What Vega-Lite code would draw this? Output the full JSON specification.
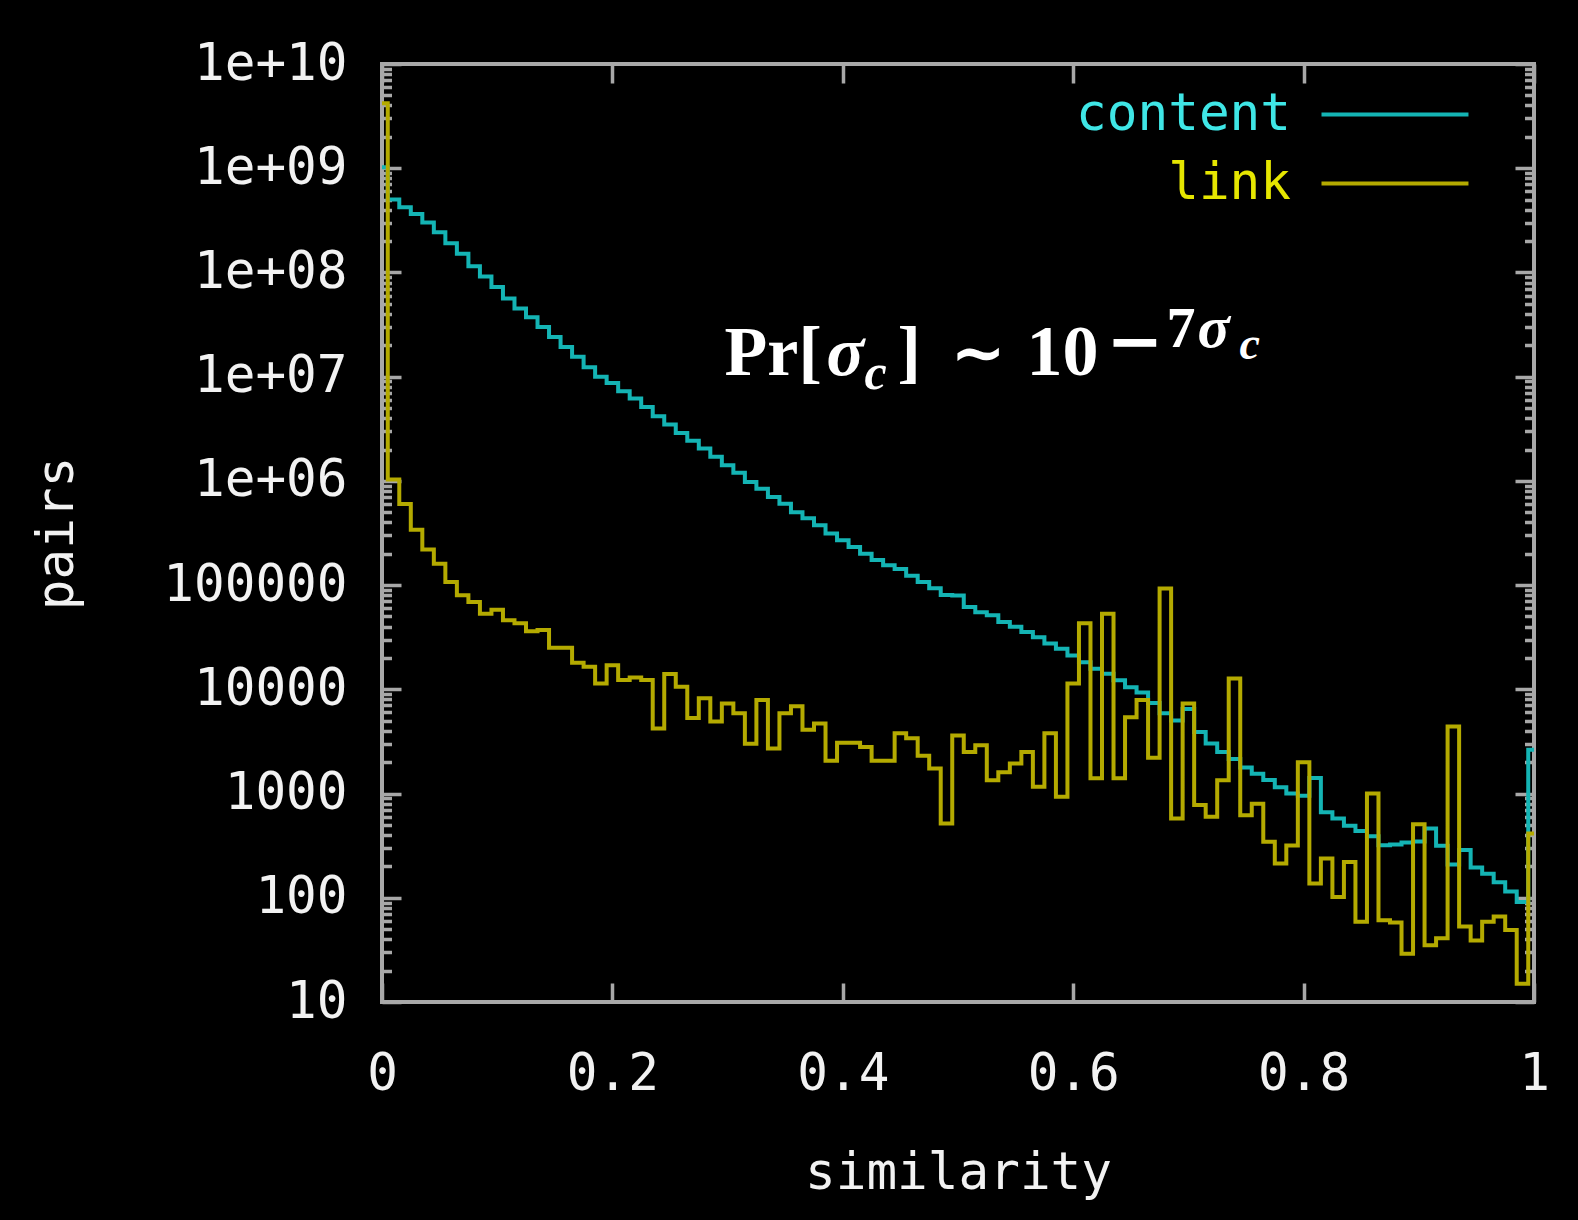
{
  "$schema": "https://vega.github.io/schema/vega-lite/v6.json",
  "width": 1152,
  "height": 938,
  "autosize": "none",
  "padding": {"left": 382, "top": 64, "right": 44, "bottom": 218},
  "background": "#000000",
  "config": {
    "view": {"stroke": "#a8a8a8", "strokeWidth": 4, "fill": "#000000"},
    "axis": {"grid": false}
  },
  "datasets": {
    "series": [
      {"x": 0, "pairs": 1020000000, "series": "content"},
      {"x": 0.01, "pairs": 501000000, "series": "content"},
      {"x": 0.02, "pairs": 422000000, "series": "content"},
      {"x": 0.03, "pairs": 363000000, "series": "content"},
      {"x": 0.04, "pairs": 302000000, "series": "content"},
      {"x": 0.05, "pairs": 243000000, "series": "content"},
      {"x": 0.06, "pairs": 190500000, "series": "content"},
      {"x": 0.07, "pairs": 151000000, "series": "content"},
      {"x": 0.08, "pairs": 114800000, "series": "content"},
      {"x": 0.09, "pairs": 91200000, "series": "content"},
      {"x": 0.1, "pairs": 72400000, "series": "content"},
      {"x": 0.11, "pairs": 56200000, "series": "content"},
      {"x": 0.12, "pairs": 45200000, "series": "content"},
      {"x": 0.13, "pairs": 37200000, "series": "content"},
      {"x": 0.14, "pairs": 29900000, "series": "content"},
      {"x": 0.15, "pairs": 24000000, "series": "content"},
      {"x": 0.16, "pairs": 19300000, "series": "content"},
      {"x": 0.17, "pairs": 15500000, "series": "content"},
      {"x": 0.18, "pairs": 12300000, "series": "content"},
      {"x": 0.19, "pairs": 10000000, "series": "content"},
      {"x": 0.2, "pairs": 8710000, "series": "content"},
      {"x": 0.21, "pairs": 7240000, "series": "content"},
      {"x": 0.22, "pairs": 6170000, "series": "content"},
      {"x": 0.23, "pairs": 5130000, "series": "content"},
      {"x": 0.24, "pairs": 4170000, "series": "content"},
      {"x": 0.25, "pairs": 3470000, "series": "content"},
      {"x": 0.26, "pairs": 2880000, "series": "content"},
      {"x": 0.27, "pairs": 2430000, "series": "content"},
      {"x": 0.28, "pairs": 2040000, "series": "content"},
      {"x": 0.29, "pairs": 1700000, "series": "content"},
      {"x": 0.3, "pairs": 1410000, "series": "content"},
      {"x": 0.31, "pairs": 1200000, "series": "content"},
      {"x": 0.32, "pairs": 977000, "series": "content"},
      {"x": 0.33, "pairs": 841000, "series": "content"},
      {"x": 0.34, "pairs": 700000, "series": "content"},
      {"x": 0.35, "pairs": 603000, "series": "content"},
      {"x": 0.36, "pairs": 501000, "series": "content"},
      {"x": 0.37, "pairs": 437000, "series": "content"},
      {"x": 0.38, "pairs": 376000, "series": "content"},
      {"x": 0.39, "pairs": 313000, "series": "content"},
      {"x": 0.4, "pairs": 269000, "series": "content"},
      {"x": 0.41, "pairs": 232000, "series": "content"},
      {"x": 0.42, "pairs": 200000, "series": "content"},
      {"x": 0.43, "pairs": 174000, "series": "content"},
      {"x": 0.44, "pairs": 155000, "series": "content"},
      {"x": 0.45, "pairs": 143000, "series": "content"},
      {"x": 0.46, "pairs": 123000, "series": "content"},
      {"x": 0.47, "pairs": 107000, "series": "content"},
      {"x": 0.48, "pairs": 93300, "series": "content"},
      {"x": 0.49, "pairs": 80400, "series": "content"},
      {"x": 0.5, "pairs": 79400, "series": "content"},
      {"x": 0.51, "pairs": 61700, "series": "content"},
      {"x": 0.52, "pairs": 55000, "series": "content"},
      {"x": 0.53, "pairs": 51300, "series": "content"},
      {"x": 0.54, "pairs": 44200, "series": "content"},
      {"x": 0.55, "pairs": 39800, "series": "content"},
      {"x": 0.56, "pairs": 35500, "series": "content"},
      {"x": 0.57, "pairs": 31600, "series": "content"},
      {"x": 0.58, "pairs": 27500, "series": "content"},
      {"x": 0.59, "pairs": 24500, "series": "content"},
      {"x": 0.6, "pairs": 21100, "series": "content"},
      {"x": 0.61, "pairs": 18200, "series": "content"},
      {"x": 0.62, "pairs": 15800, "series": "content"},
      {"x": 0.63, "pairs": 14100, "series": "content"},
      {"x": 0.64, "pairs": 12200, "series": "content"},
      {"x": 0.65, "pairs": 10500, "series": "content"},
      {"x": 0.66, "pairs": 9330, "series": "content"},
      {"x": 0.67, "pairs": 7410, "series": "content"},
      {"x": 0.68, "pairs": 5890, "series": "content"},
      {"x": 0.69, "pairs": 5010, "series": "content"},
      {"x": 0.7, "pairs": 6460, "series": "content"},
      {"x": 0.71, "pairs": 3890, "series": "content"},
      {"x": 0.72, "pairs": 3020, "series": "content"},
      {"x": 0.73, "pairs": 2510, "series": "content"},
      {"x": 0.74, "pairs": 2140, "series": "content"},
      {"x": 0.75, "pairs": 1780, "series": "content"},
      {"x": 0.76, "pairs": 1550, "series": "content"},
      {"x": 0.77, "pairs": 1350, "series": "content"},
      {"x": 0.78, "pairs": 1150, "series": "content"},
      {"x": 0.79, "pairs": 1000, "series": "content"},
      {"x": 0.8, "pairs": 955, "series": "content"},
      {"x": 0.81, "pairs": 1410, "series": "content"},
      {"x": 0.82, "pairs": 661, "series": "content"},
      {"x": 0.83, "pairs": 575, "series": "content"},
      {"x": 0.84, "pairs": 490, "series": "content"},
      {"x": 0.85, "pairs": 437, "series": "content"},
      {"x": 0.86, "pairs": 389, "series": "content"},
      {"x": 0.87, "pairs": 320, "series": "content"},
      {"x": 0.88, "pairs": 324, "series": "content"},
      {"x": 0.89, "pairs": 339, "series": "content"},
      {"x": 0.9, "pairs": 347, "series": "content"},
      {"x": 0.91, "pairs": 462, "series": "content"},
      {"x": 0.92, "pairs": 316, "series": "content"},
      {"x": 0.93, "pairs": 209, "series": "content"},
      {"x": 0.94, "pairs": 288, "series": "content"},
      {"x": 0.95, "pairs": 195, "series": "content"},
      {"x": 0.96, "pairs": 170, "series": "content"},
      {"x": 0.97, "pairs": 141, "series": "content"},
      {"x": 0.98, "pairs": 115, "series": "content"},
      {"x": 0.99, "pairs": 91, "series": "content"},
      {"x": 1, "pairs": 2630, "series": "content"},
      {"x": 0, "pairs": 4200000000, "series": "link"},
      {"x": 0.01, "pairs": 1030000, "series": "link"},
      {"x": 0.02, "pairs": 600000, "series": "link"},
      {"x": 0.03, "pairs": 340000, "series": "link"},
      {"x": 0.04, "pairs": 220000, "series": "link"},
      {"x": 0.05, "pairs": 160000, "series": "link"},
      {"x": 0.06, "pairs": 107000, "series": "link"},
      {"x": 0.07, "pairs": 80000, "series": "link"},
      {"x": 0.08, "pairs": 69000, "series": "link"},
      {"x": 0.09, "pairs": 53000, "series": "link"},
      {"x": 0.1, "pairs": 58000, "series": "link"},
      {"x": 0.11, "pairs": 46000, "series": "link"},
      {"x": 0.12, "pairs": 43000, "series": "link"},
      {"x": 0.13, "pairs": 36000, "series": "link"},
      {"x": 0.14, "pairs": 37000, "series": "link"},
      {"x": 0.15, "pairs": 25000, "series": "link"},
      {"x": 0.16, "pairs": 25000, "series": "link"},
      {"x": 0.17, "pairs": 18000, "series": "link"},
      {"x": 0.18, "pairs": 16500, "series": "link"},
      {"x": 0.19, "pairs": 11400, "series": "link"},
      {"x": 0.2, "pairs": 17000, "series": "link"},
      {"x": 0.21, "pairs": 12300, "series": "link"},
      {"x": 0.22, "pairs": 13000, "series": "link"},
      {"x": 0.23, "pairs": 12300, "series": "link"},
      {"x": 0.24, "pairs": 4200, "series": "link"},
      {"x": 0.25, "pairs": 14000, "series": "link"},
      {"x": 0.26, "pairs": 10600, "series": "link"},
      {"x": 0.27, "pairs": 5300, "series": "link"},
      {"x": 0.28, "pairs": 8200, "series": "link"},
      {"x": 0.29, "pairs": 4900, "series": "link"},
      {"x": 0.3, "pairs": 7300, "series": "link"},
      {"x": 0.31, "pairs": 5900, "series": "link"},
      {"x": 0.32, "pairs": 3000, "series": "link"},
      {"x": 0.33, "pairs": 7900, "series": "link"},
      {"x": 0.34, "pairs": 2700, "series": "link"},
      {"x": 0.35, "pairs": 5900, "series": "link"},
      {"x": 0.36, "pairs": 6900, "series": "link"},
      {"x": 0.37, "pairs": 4100, "series": "link"},
      {"x": 0.38, "pairs": 4700, "series": "link"},
      {"x": 0.39, "pairs": 2060, "series": "link"},
      {"x": 0.4, "pairs": 3070, "series": "link"},
      {"x": 0.41, "pairs": 3070, "series": "link"},
      {"x": 0.42, "pairs": 2800, "series": "link"},
      {"x": 0.43, "pairs": 2060, "series": "link"},
      {"x": 0.44, "pairs": 2060, "series": "link"},
      {"x": 0.45, "pairs": 3800, "series": "link"},
      {"x": 0.46, "pairs": 3400, "series": "link"},
      {"x": 0.47, "pairs": 2300, "series": "link"},
      {"x": 0.48, "pairs": 1740, "series": "link"},
      {"x": 0.49, "pairs": 516, "series": "link"},
      {"x": 0.5, "pairs": 3600, "series": "link"},
      {"x": 0.51, "pairs": 2500, "series": "link"},
      {"x": 0.52, "pairs": 2900, "series": "link"},
      {"x": 0.53, "pairs": 1340, "series": "link"},
      {"x": 0.54, "pairs": 1600, "series": "link"},
      {"x": 0.55, "pairs": 1940, "series": "link"},
      {"x": 0.56, "pairs": 2500, "series": "link"},
      {"x": 0.57, "pairs": 1160, "series": "link"},
      {"x": 0.58, "pairs": 3800, "series": "link"},
      {"x": 0.59, "pairs": 930, "series": "link"},
      {"x": 0.6, "pairs": 11400, "series": "link"},
      {"x": 0.61, "pairs": 43000, "series": "link"},
      {"x": 0.62, "pairs": 1400, "series": "link"},
      {"x": 0.63, "pairs": 53000, "series": "link"},
      {"x": 0.64, "pairs": 1400, "series": "link"},
      {"x": 0.65, "pairs": 5400, "series": "link"},
      {"x": 0.66, "pairs": 7900, "series": "link"},
      {"x": 0.67, "pairs": 2200, "series": "link"},
      {"x": 0.68, "pairs": 93000, "series": "link"},
      {"x": 0.69, "pairs": 575, "series": "link"},
      {"x": 0.7, "pairs": 7300, "series": "link"},
      {"x": 0.71, "pairs": 775, "series": "link"},
      {"x": 0.72, "pairs": 600, "series": "link"},
      {"x": 0.73, "pairs": 1340, "series": "link"},
      {"x": 0.74, "pairs": 12700, "series": "link"},
      {"x": 0.75, "pairs": 620, "series": "link"},
      {"x": 0.76, "pairs": 800, "series": "link"},
      {"x": 0.77, "pairs": 344, "series": "link"},
      {"x": 0.78, "pairs": 213, "series": "link"},
      {"x": 0.79, "pairs": 318, "series": "link"},
      {"x": 0.8, "pairs": 2000, "series": "link"},
      {"x": 0.81, "pairs": 137, "series": "link"},
      {"x": 0.82, "pairs": 238, "series": "link"},
      {"x": 0.83, "pairs": 102, "series": "link"},
      {"x": 0.84, "pairs": 220, "series": "link"},
      {"x": 0.85, "pairs": 59, "series": "link"},
      {"x": 0.86, "pairs": 1000, "series": "link"},
      {"x": 0.87, "pairs": 61, "series": "link"},
      {"x": 0.88, "pairs": 58, "series": "link"},
      {"x": 0.89, "pairs": 29, "series": "link"},
      {"x": 0.9, "pairs": 508, "series": "link"},
      {"x": 0.91, "pairs": 35, "series": "link"},
      {"x": 0.92, "pairs": 41, "series": "link"},
      {"x": 0.93, "pairs": 4400, "series": "link"},
      {"x": 0.94, "pairs": 53, "series": "link"},
      {"x": 0.95, "pairs": 39, "series": "link"},
      {"x": 0.96, "pairs": 59, "series": "link"},
      {"x": 0.97, "pairs": 66, "series": "link"},
      {"x": 0.98, "pairs": 49, "series": "link"},
      {"x": 0.99, "pairs": 15, "series": "link"},
      {"x": 1, "pairs": 413, "series": "link"}
    ]
  },
  "resolve": {"axis": {"x": "independent", "y": "independent"}},
  "layer": [
    {
      "data": {"name": "series"},
      "mark": {"type": "line", "interpolate": "step", "strokeWidth": 4, "clip": true},
      "encoding": {
        "x": {
          "field": "x", "type": "quantitative",
          "scale": {"domain": [0, 1], "nice": false, "zero": false},
          "axis": {
            "orient": "bottom", "values": [0, 0.2, 0.4, 0.6, 0.8, 1], "format": "~g",
            "ticks": false, "domain": false, "labelFlush": false, "labelOverlap": false, "labelBound": false,
            "labelFont": "DejaVu Sans Mono", "labelFontSize": 51, "labelColor": "#f2f2f2", "labelLimit": 400,
            "labelBaseline": "alphabetic", "labelPadding": 87,
            "title": "similarity", "titleFont": "DejaVu Sans Mono", "titleFontSize": 51, "titleFontWeight": "normal",
            "titleColor": "#f2f2f2", "titleX": 576, "titleY": 186, "titleAlign": "center", "titleBaseline": "alphabetic"
          }
        },
        "y": {
          "field": "pairs", "type": "quantitative",
          "scale": {"type": "log", "domain": [10, 10000000000], "nice": false},
          "axis": {
            "orient": "left",
            "values": [10, 100, 1000, 10000, 100000, 1000000, 10000000, 100000000, 1000000000, 10000000000],
            "labelExpr": "datum.value >= 1000000 ? '1e+' + (round(log(datum.value)/LN10) < 10 ? '0' : '') + round(log(datum.value)/LN10) : format(datum.value, 'd')",
            "ticks": false, "domain": false, "labelFlush": false, "labelOverlap": false, "labelBound": false,
            "labelFont": "DejaVu Sans Mono", "labelFontSize": 51, "labelColor": "#f2f2f2", "labelPadding": 35, "labelLimit": 400,
            "title": "pairs", "titleFont": "DejaVu Sans Mono", "titleFontSize": 51, "titleFontWeight": "normal",
            "titleColor": "#f2f2f2", "titleAngle": -90, "titleX": -310, "titleY": 469, "titleAlign": "center", "titleBaseline": "alphabetic"
          }
        },
        "color": {
          "field": "series", "type": "nominal",
          "scale": {"domain": ["content", "link"], "range": ["#14b4b4", "#b4aa00"]},
          "legend": {
            "orient": "none", "legendX": 914, "legendY": 25, "title": null, "direction": "vertical",
            "symbolType": "M0,0H10", "symbolSize": 864, "symbolStrokeWidth": 4, "symbolOpacity": 1,
            "labelFont": "DejaVu Sans Mono", "labelFontSize": 51, "labelAlign": "right", "labelOffset": -56,
            "labelBaseline": "middle", "labelLimit": 400, "rowPadding": 17, "padding": 0,
            "encode": {"labels": {"update": {"fill": {"signal": "datum.value === 'content' ? '#3fe6e6' : '#e6e600'"}}}}
          }
        }
      }
    },
    {
      "data": {"values": [{"t": "Pr["}]},
      "mark": {"type": "text", "font": "Liberation Serif", "fontWeight": "bold", "fontSize": 70, "color": "#ffffff", "align": "left", "baseline": "alphabetic", "dx": -3, "dy": -2},
      "encoding": {
        "text": {"field": "t"},
        "x": {
          "datum": 0.3, "type": "quantitative",
          "scale": {"domain": [0, 1], "nice": false, "zero": false},
          "axis": {"orient": "bottom", "values": [0, 0.2, 0.4, 0.6, 0.8, 1], "labels": false, "domain": false, "title": null,
                   "tickSize": -19, "tickWidth": 3.5, "tickColor": "#a8a8a8"}
        },
        "y": {
          "datum": 10000000, "type": "quantitative",
          "scale": {"type": "log", "domain": [10, 10000000000], "nice": false},
          "axis": {
            "orient": "left", "labels": false, "domain": false, "title": null, "tickWidth": 3.5, "tickColor": "#a8a8a8",
            "tickSize": {"condition": {"test": "abs(log(datum.value)/LN10 - round(log(datum.value)/LN10)) < 0.001", "value": -19}, "value": -9.5},
            "values": [10,20,30,40,50,60,70,80,90,100,200,300,400,500,600,700,800,900,1000,2000,3000,4000,5000,6000,7000,8000,9000,10000,20000,30000,40000,50000,60000,70000,80000,90000,100000,200000,300000,400000,500000,600000,700000,800000,900000,1000000,2000000,3000000,4000000,5000000,6000000,7000000,8000000,9000000,10000000,20000000,30000000,40000000,50000000,60000000,70000000,80000000,90000000,100000000,200000000,300000000,400000000,500000000,600000000,700000000,800000000,900000000,1000000000,2000000000,3000000000,4000000000,5000000000,6000000000,7000000000,8000000000,9000000000,10000000000]
          }
        }
      }
    },
    {
      "data": {"values": [{"t": "σ"}]},
      "mark": {"type": "text", "font": "Liberation Serif", "fontWeight": "bold", "fontStyle": "italic", "fontSize": 70, "color": "#ffffff", "align": "left", "baseline": "alphabetic", "dx": 99, "dy": -2},
      "encoding": {
        "text": {"field": "t"},
        "x": {
          "datum": 0.3, "type": "quantitative",
          "scale": {"domain": [0, 1], "nice": false, "zero": false},
          "axis": {"orient": "top", "values": [0, 0.2, 0.4, 0.6, 0.8, 1], "labels": false, "domain": false, "title": null,
                   "tickSize": -19, "tickWidth": 3.5, "tickColor": "#a8a8a8"}
        },
        "y": {
          "datum": 10000000, "type": "quantitative",
          "scale": {"type": "log", "domain": [10, 10000000000], "nice": false},
          "axis": {
            "orient": "right", "labels": false, "domain": false, "title": null, "tickWidth": 3.5, "tickColor": "#a8a8a8",
            "tickSize": {"condition": {"test": "abs(log(datum.value)/LN10 - round(log(datum.value)/LN10)) < 0.001", "value": -19}, "value": -9.5},
            "values": [10,20,30,40,50,60,70,80,90,100,200,300,400,500,600,700,800,900,1000,2000,3000,4000,5000,6000,7000,8000,9000,10000,20000,30000,40000,50000,60000,70000,80000,90000,100000,200000,300000,400000,500000,600000,700000,800000,900000,1000000,2000000,3000000,4000000,5000000,6000000,7000000,8000000,9000000,10000000,20000000,30000000,40000000,50000000,60000000,70000000,80000000,90000000,100000000,200000000,300000000,400000000,500000000,600000000,700000000,800000000,900000000,1000000000,2000000000,3000000000,4000000000,5000000000,6000000000,7000000000,8000000000,9000000000,10000000000]
          }
        }
      }
    },
    {
      "data": {"values": [{"t": "c"}]},
      "mark": {"type": "text", "font": "Liberation Serif", "fontWeight": "bold", "fontStyle": "italic", "fontSize": 50, "color": "#ffffff", "align": "left", "baseline": "alphabetic", "dx": 137, "dy": 12},
      "encoding": {
        "text": {"field": "t"},
        "x": {"datum": 0.3, "type": "quantitative", "scale": {"domain": [0, 1], "nice": false, "zero": false}, "axis": null},
        "y": {"datum": 10000000, "type": "quantitative", "scale": {"type": "log", "domain": [10, 10000000000], "nice": false}, "axis": null}
      }
    },
    {
      "data": {"values": [{"t": "]"}]},
      "mark": {"type": "text", "font": "Liberation Serif", "fontWeight": "bold", "fontSize": 70, "color": "#ffffff", "align": "left", "baseline": "alphabetic", "dx": 170, "dy": -2},
      "encoding": {
        "text": {"field": "t"},
        "x": {"datum": 0.3, "type": "quantitative", "scale": {"domain": [0, 1], "nice": false, "zero": false}, "axis": null},
        "y": {"datum": 10000000, "type": "quantitative", "scale": {"type": "log", "domain": [10, 10000000000], "nice": false}, "axis": null}
      }
    },
    {
      "data": {"values": [{"t": "∼"}]},
      "mark": {"type": "text", "font": "DejaVu Sans", "fontWeight": "bold", "fontSize": 66, "color": "#ffffff", "align": "left", "baseline": "alphabetic", "dx": 223, "dy": -2},
      "encoding": {
        "text": {"field": "t"},
        "x": {"datum": 0.3, "type": "quantitative", "scale": {"domain": [0, 1], "nice": false, "zero": false}, "axis": null},
        "y": {"datum": 10000000, "type": "quantitative", "scale": {"type": "log", "domain": [10, 10000000000], "nice": false}, "axis": null}
      }
    },
    {
      "data": {"values": [{"t": "10"}]},
      "mark": {"type": "text", "font": "Liberation Serif", "fontWeight": "bold", "fontSize": 72, "color": "#ffffff", "align": "left", "baseline": "alphabetic", "dx": 299, "dy": -2},
      "encoding": {
        "text": {"field": "t"},
        "x": {"datum": 0.3, "type": "quantitative", "scale": {"domain": [0, 1], "nice": false, "zero": false}, "axis": null},
        "y": {"datum": 10000000, "type": "quantitative", "scale": {"type": "log", "domain": [10, 10000000000], "nice": false}, "axis": null}
      }
    },
    {
      "data": {"values": [{"t": "−"}]},
      "mark": {"type": "text", "font": "DejaVu Sans", "fontWeight": "bold", "fontSize": 68, "color": "#ffffff", "align": "left", "baseline": "alphabetic", "dx": 379, "dy": -13},
      "encoding": {
        "text": {"field": "t"},
        "x": {"datum": 0.3, "type": "quantitative", "scale": {"domain": [0, 1], "nice": false, "zero": false}, "axis": null},
        "y": {"datum": 10000000, "type": "quantitative", "scale": {"type": "log", "domain": [10, 10000000000], "nice": false}, "axis": null}
      }
    },
    {
      "data": {"values": [{"t": "7"}]},
      "mark": {"type": "text", "font": "Liberation Serif", "fontWeight": "bold", "fontSize": 58, "color": "#ffffff", "align": "left", "baseline": "alphabetic", "dx": 439, "dy": -30},
      "encoding": {
        "text": {"field": "t"},
        "x": {"datum": 0.3, "type": "quantitative", "scale": {"domain": [0, 1], "nice": false, "zero": false}, "axis": null},
        "y": {"datum": 10000000, "type": "quantitative", "scale": {"type": "log", "domain": [10, 10000000000], "nice": false}, "axis": null}
      }
    },
    {
      "data": {"values": [{"t": "σ"}]},
      "mark": {"type": "text", "font": "Liberation Serif", "fontWeight": "bold", "fontStyle": "italic", "fontSize": 60, "color": "#ffffff", "align": "left", "baseline": "alphabetic", "dx": 470, "dy": -30},
      "encoding": {
        "text": {"field": "t"},
        "x": {"datum": 0.3, "type": "quantitative", "scale": {"domain": [0, 1], "nice": false, "zero": false}, "axis": null},
        "y": {"datum": 10000000, "type": "quantitative", "scale": {"type": "log", "domain": [10, 10000000000], "nice": false}, "axis": null}
      }
    },
    {
      "data": {"values": [{"t": "c"}]},
      "mark": {"type": "text", "font": "Liberation Serif", "fontWeight": "bold", "fontStyle": "italic", "fontSize": 46, "color": "#ffffff", "align": "left", "baseline": "alphabetic", "dx": 512, "dy": -18},
      "encoding": {
        "text": {"field": "t"},
        "x": {"datum": 0.3, "type": "quantitative", "scale": {"domain": [0, 1], "nice": false, "zero": false}, "axis": null},
        "y": {"datum": 10000000, "type": "quantitative", "scale": {"type": "log", "domain": [10, 10000000000], "nice": false}, "axis": null}
      }
    }
  ]
}
